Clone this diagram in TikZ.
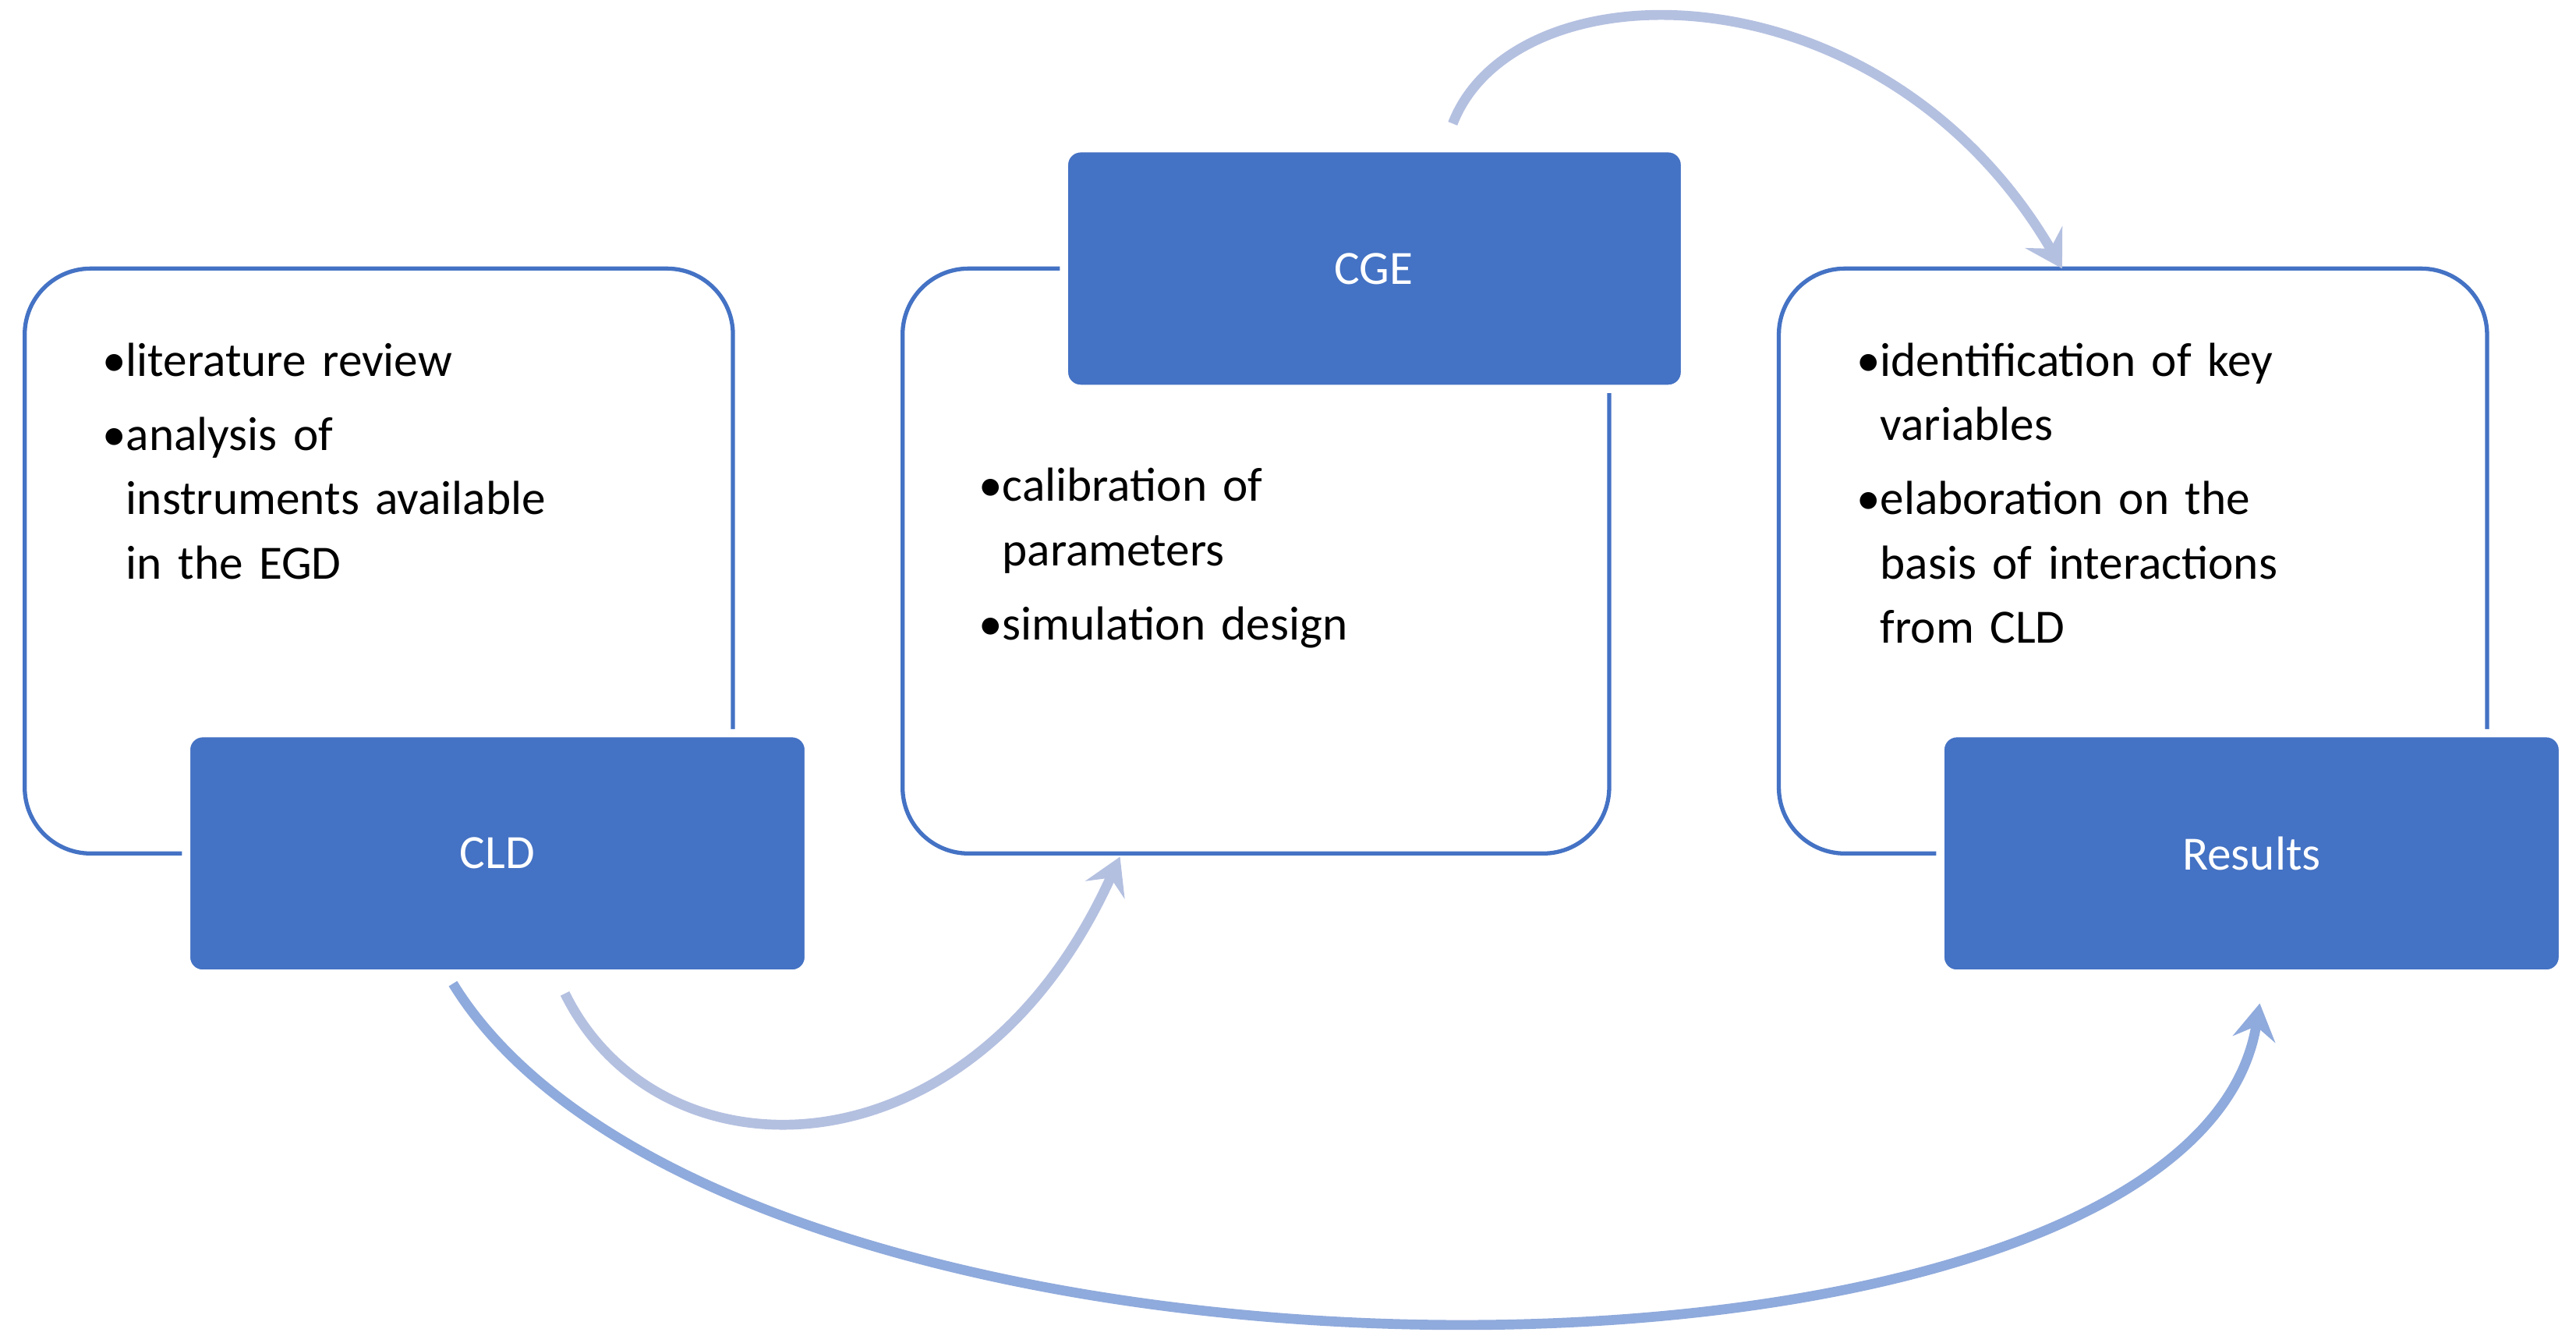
\documentclass[tikz,border=0pt]{standalone}
\usepackage{fontspec}
\setmainfont{Carlito}
\usetikzlibrary{arrows.meta}
\definecolor{fillb}{HTML}{4472C4}
\definecolor{arrA}{HTML}{B4C0E0}
\definecolor{arrB}{HTML}{8FAADC}
\begin{document}
\begin{tikzpicture}[x=1pt,y=-1pt,
  outline/.style={draw=fillb,line width=2.5pt,rounded corners=40pt,fill=white},
  head/.style={draw=white,line width=5pt,fill=fillb,rounded corners=10pt},
  lbl/.style={text=white,font=\fontsize{29}{35}\selectfont},
  txt/.style={anchor=north west,align=left,font=\fontsize{29}{39}\selectfont,text width=360pt,inner sep=0pt},
  arr/.style={line width=6pt,-{Stealth[length=22pt,width=26pt,inset=8pt]}}]
\useasboundingbox (0,0) rectangle (1564,815);
% outlines
\draw[outline] (15,163) rectangle (445,518);
\draw[outline] (548,163) rectangle (977,518);
\draw[outline] (1080,163) rectangle (1510,518);
% heads
\draw[head] (113,445) rectangle (491,591);
\draw[head] (646,90) rectangle (1023,236);
\draw[head] (1178,445) rectangle (1556,591);
\node[lbl] (cld) at (302,518) {CLD};
\node[lbl] (cge) at (834,163) {CGE};
\node[lbl] (res) at (1367,518) {Results};
% texts
\node[txt] (t1) at (62,208) {\textbullet literature review\\[6pt]\textbullet analysis of\\\phantom{\textbullet}instruments available\\\phantom{\textbullet}in the EGD};
\node[txt] (t2) at (594,284) {\textbullet calibration of\\\phantom{\textbullet}parameters\\[6pt]\textbullet simulation design};
\node[txt] (t3) at (1127,208) {\textbullet identification of key\\\phantom{\textbullet}variables\\[6pt]\textbullet elaboration on the\\\phantom{\textbullet}basis of interactions\\\phantom{\textbullet}from CLD};
% arrow endpoints
\coordinate (a1s) at (882,75);
\coordinate (a1e) at (1252,163);
\coordinate (a2s) at (343,603);
\coordinate (a2e) at (680,520);
\coordinate (a3s) at (275,597);
\coordinate (a3e) at (1372,609);
\draw[arr,arrA] (a1s) .. controls (920,-23) and (1143,-23) .. (a1e);
\draw[arr,arrA] (a2s) .. controls (400,719) and (590,719) .. (a2e);
\draw[arr,arrB] (a3s) .. controls (442,869) and (1330,869) .. (a3e);
\end{tikzpicture}
\end{document}
